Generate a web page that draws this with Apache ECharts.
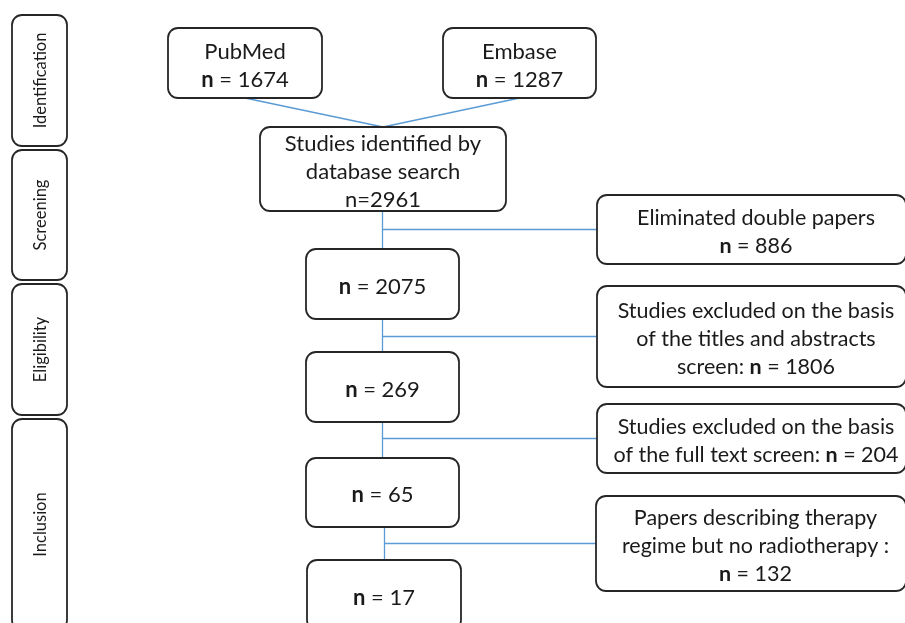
<!DOCTYPE html>
<html>
<head>
<meta charset="utf-8">
<style>
  html, body { margin: 0; padding: 0; background: #fff; }
  #chart { width: 905px; height: 623px; }
</style>
<script src="https://cdn.jsdelivr.net/npm/echarts@6/dist/echarts.min.js"></script>
</head>
<body>
<div id="chart"></div>
<script>
// flow diagram texts and counts
var phases = ['Identification', 'Screening', 'Eligibility', 'Inclusion'];
var sources = ['PubMed', 'Embase'];
var sourceCounts = [1674, 1287];
var totalLines = ['Studies identified by', 'database search'];
var totalCount = 2961;
var remainingCounts = [2075, 269, 65, 17];
var exclusionLines = [
  ['Eliminated double papers', ''],
  ['Studies excluded on the basis', 'of the titles and abstracts', 'screen: '],
  ['Studies excluded on the basis', 'of the full text screen: '],
  ['Papers describing therapy', 'regime but no radiotherapy :', '']
];
var exclusionCounts = [886, 1806, 204, 132];

// box layout, page pixels: [left, top, right, bottom]
var phaseBoxes = [[12, 15, 67, 146], [12, 150, 67, 280], [12, 284, 67, 415], [12, 419, 67, 630]];
var sourceBoxes = [[168, 28, 322, 98], [443, 28, 596, 98]];
var totalBox = [260, 127, 506, 211];
var remainingBoxes = [[306, 249, 459, 319], [306, 352, 459, 422], [306, 458, 459, 527], [307, 560, 461, 630]];
var exclusionBoxes = [[597, 195, 906, 264], [597, 286, 906, 387], [597, 404, 906, 473], [596, 496, 906, 591]];

var FONT = 'Lato';
var nBold = function (count) { return '{b|n} = ' + count; };

var boxes = [];
phases.forEach(function (p, i) {
  boxes.push({ rect: phaseBoxes[i], text: p, size: 16.5, vertical: true });
});
sources.forEach(function (s, i) {
  boxes.push({ rect: sourceBoxes[i], text: s + '\n' + nBold(sourceCounts[i]), size: 22 });
});
boxes.push({ rect: totalBox, text: totalLines.join('\n') + '\nn=' + totalCount, size: 22 });
remainingCounts.forEach(function (c, i) {
  boxes.push({ rect: remainingBoxes[i], text: nBold(c), size: 22 });
});
exclusionLines.forEach(function (lines, i) {
  var l = lines.slice();
  l[l.length - 1] += nBold(exclusionCounts[i]);
  boxes.push({ rect: exclusionBoxes[i], text: l.join('\n'), size: 21.5, shift: 4.5 });
});

// connectors derived from the boxes
var mid = function (r) { return (r[0] + r[2]) / 2; };
var links = [];
sourceBoxes.forEach(function (r) {
  links.push([[mid(r), r[3]], [mid(totalBox), totalBox[1]]]);
});
var above = totalBox;
remainingBoxes.forEach(function (r, i) {
  var x = mid(r);
  var ex = exclusionBoxes[i];
  links.push([[x, above[3]], [x, r[1]]]);
  links.push([[x, (ex[1] + ex[3]) / 2], [ex[0], (ex[1] + ex[3]) / 2]]);
  above = r;
});

var chart = echarts.init(document.getElementById('chart'));
chart.setOption({
  animation: false,
  grid: { left: 0, right: 0, top: 0, bottom: 0 },
  xAxis: { type: 'value', min: 0, max: 905, show: false },
  yAxis: { type: 'value', min: 0, max: 623, inverse: true, show: false },
  series: [
    {
      type: 'lines',
      coordinateSystem: 'cartesian2d',
      z: 1,
      lineStyle: { color: '#5b9bd5', width: 1.3, opacity: 1 },
      data: links.map(function (l) { return { coords: l }; })
    },
    {
      type: 'custom',
      z: 2,
      clip: false,
      encode: { x: [0, 2], y: [1, 3] },
      data: boxes.map(function (b) { return b.rect; }),
      renderItem: function (params, api) {
        var item = boxes[params.dataIndex];
        var p0 = api.coord([api.value(0), api.value(1)]);
        var p1 = api.coord([api.value(2), api.value(3)]);
        return {
          type: 'group',
          children: [
            {
              type: 'rect',
              shape: { x: p0[0], y: p0[1], width: p1[0] - p0[0], height: p1[1] - p0[1], r: 10 },
              style: { fill: '#fff', stroke: '#262626', lineWidth: 1.8 }
            },
            {
              type: 'text',
              x: (p0[0] + p1[0]) / 2 + (item.vertical ? 1.5 : (item.shift || 0)),
              y: (p0[1] + p1[1]) / 2 + (item.vertical ? 0 : 2.5),
              rotation: item.vertical ? Math.PI / 2 : 0,
              style: {
                text: item.text, x: 0, y: 0,
                align: 'center', verticalAlign: 'middle',
                fontFamily: FONT, fontSize: item.size, lineHeight: 28, fill: '#1a1a1a',
                rich: {
                  b: { fontFamily: FONT, fontSize: item.size, fontWeight: 'bold', lineHeight: 28, fill: '#1a1a1a' }
                }
              }
            }
          ]
        };
      }
    }
  ]
});
</script>
</body>
</html>
